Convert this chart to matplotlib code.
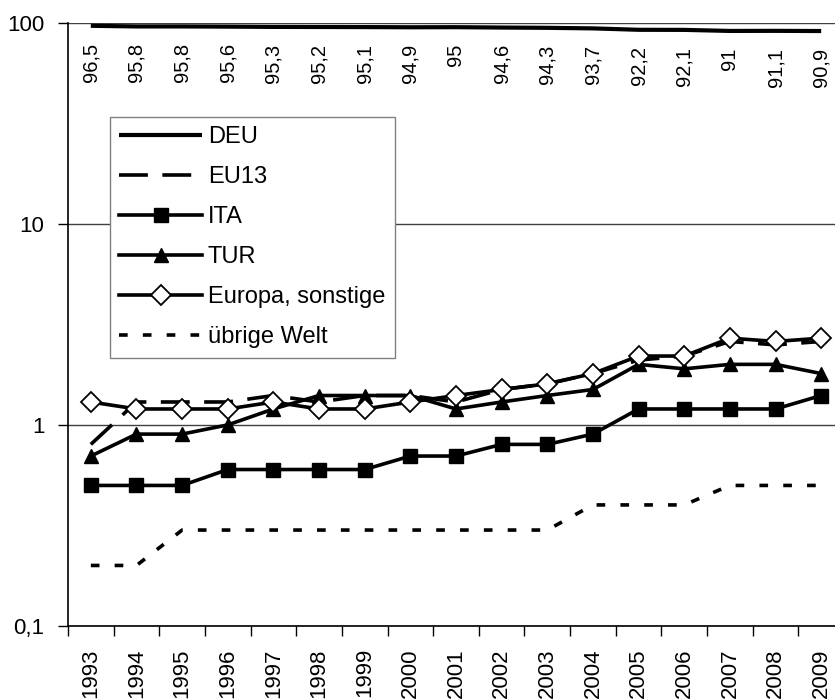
import numpy as np
import matplotlib
matplotlib.use("Agg")
import matplotlib.pyplot as plt

plt.rcParams['font.family'] = ['Liberation Sans', 'DejaVu Sans']

# Daten (Anteile in %, log-Skala)
jahre = list(range(1993, 2010))
deu = [96.5, 95.8, 95.8, 95.6, 95.3, 95.2, 95.1, 94.9, 95, 94.6, 94.3, 93.7, 92.2, 92.1, 91, 91.1, 90.9]
eu13 = [0.8, 1.3, 1.3, 1.3, 1.4, 1.3, 1.4, 1.4, 1.3, 1.5, 1.6, 1.8, 2.1, 2.2, 2.6, 2.5, 2.6]
ita = [0.5, 0.5, 0.5, 0.6, 0.6, 0.6, 0.6, 0.7, 0.7, 0.8, 0.8, 0.9, 1.2, 1.2, 1.2, 1.2, 1.4]
tur = [0.7, 0.9, 0.9, 1.0, 1.2, 1.4, 1.4, 1.4, 1.2, 1.3, 1.4, 1.5, 2.0, 1.9, 2.0, 2.0, 1.8]
europa = [1.3, 1.2, 1.2, 1.2, 1.3, 1.2, 1.2, 1.3, 1.4, 1.5, 1.6, 1.8, 2.2, 2.2, 2.7, 2.6, 2.7]
welt = [0.2, 0.2, 0.3, 0.3, 0.3, 0.3, 0.3, 0.3, 0.3, 0.3, 0.3, 0.4, 0.4, 0.4, 0.5, 0.5, 0.5]

x = np.arange(len(jahre))

fig = plt.figure(figsize=(8.35, 7), dpi=100)
ax = fig.add_axes([68/835, 74/700, 776/835, 603.3/700])

lw = 2.6
ax.plot(x, deu, color='black', lw=3, label='DEU', solid_capstyle='butt')
ax.plot(x, eu13, color='black', lw=lw, dashes=(8, 4), dash_capstyle='butt', label='EU13')
ax.plot(x, ita, color='black', lw=lw, marker='s', ms=10, label='ITA')
ax.plot(x, tur, color='black', lw=lw, marker='^', ms=10, label='TUR')
ax.plot(x, europa, color='black', lw=lw, marker='D', ms=10, mfc='white', mew=1.3,
        label='Europa, sonstige')
ax.plot(x, welt, color='black', lw=lw, dashes=(2.4, 4.2), dash_capstyle='butt',
        label='übrige Welt')

# Beschriftung DEU-Werte
for xi, v in zip(x, deu):
    ax.annotate(f"{v:g}".replace('.', ','), (xi, v), xytext=(0, -12),
                textcoords='offset points', rotation=90, ha='center', va='top',
                fontsize=14.5)

ax.set_yscale('log')
ax.set_ylim(0.1, 100)
ax.set_yticks([0.1, 1, 10, 100])
ax.set_yticklabels(['0,1', '1', '10', '100'])
ax.yaxis.set_minor_locator(matplotlib.ticker.NullLocator())
ax.tick_params(axis='y', length=7, width=1, pad=10, labelsize=16)

ax.set_xlim(-0.5, len(jahre) - 0.5)
ax.set_xticks(np.arange(-0.5, len(jahre), 1))
ax.set_xticklabels([])
ax.set_xticks(x, minor=True)
ax.set_xticklabels([str(j) for j in jahre], minor=True, rotation=90, fontsize=16)
ax.tick_params(axis='x', which='major', length=7, width=1)
ax.tick_params(axis='x', which='minor', length=0, pad=16)

ax.grid(axis='y', which='major', color='#404040', lw=1)
ax.set_axisbelow(True)
for s in ['top', 'right']:
    ax.spines[s].set_visible(False)
ax.spines['left'].set_linewidth(1.2)
ax.spines['bottom'].set_linewidth(1.2)

leg = ax.legend(loc='upper left', bbox_to_anchor=(42/776, 1 - 94.3/603.3),
                borderaxespad=0, fontsize=17, handlelength=3.5, handletextpad=0.25,
                labelspacing=0.76, borderpad=0.4, fancybox=False, framealpha=1)
leg.get_frame().set_edgecolor('#808080')
leg.get_frame().set_linewidth(1)

fig.savefig('out.png', dpi=100)
